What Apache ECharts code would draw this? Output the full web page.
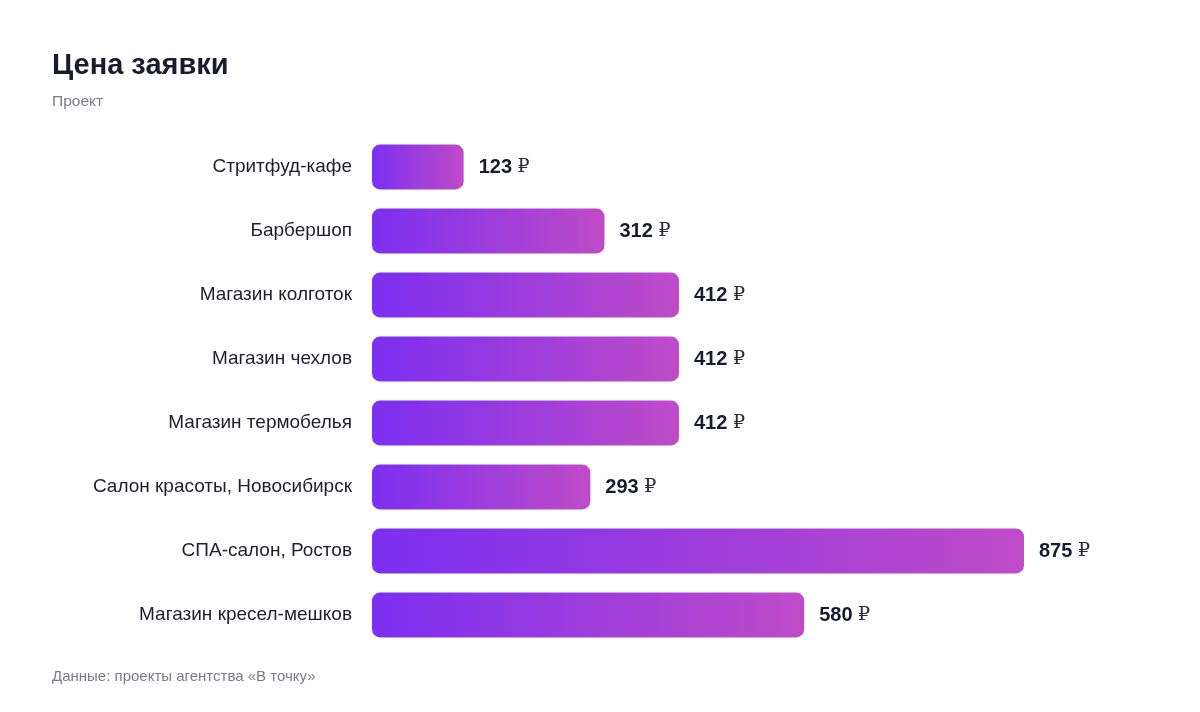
<!DOCTYPE html>
<html>
<head>
<meta charset="utf-8">
<script src="https://cdn.jsdelivr.net/npm/echarts@6/dist/echarts.min.js"></script>
<style>
html,body{margin:0;padding:0;background:#fff;}
#c{width:1200px;height:712px;}
</style>
</head>
<body>
<div id="c"></div>
<script>
const categories = ['Стритфуд-кафе','Барбершоп','Магазин колготок','Магазин чехлов','Магазин термобелья','Салон красоты, Новосибирск','СПА-салон, Ростов','Магазин кресел-мешков'];
const values = [123, 312, 412, 412, 412, 293, 875, 580];
const titleText = 'Цена заявки';
const subtitleText = 'Проект';
const footerText = 'Данные: проекты агентства «В точку»';

const font = '"Liberation Sans", Arial, Helvetica, sans-serif';
const chart = echarts.init(document.getElementById('c'));
chart.setOption({
  backgroundColor: '#ffffff',
  animation: false,
  title: [
    {text: titleText, left: 47, top: 46, textStyle: {fontFamily: font, fontSize: 29, fontWeight: 'bold', color: '#1b1b2f'}},
    {text: subtitleText, left: 47, top: 89, textStyle: {fontFamily: font, fontSize: 15.5, fontWeight: 'normal', color: '#7a7a8c'}},
    {text: footerText, left: 47, top: 664, textStyle: {fontFamily: font, fontSize: 15, fontWeight: 'normal', color: '#7a7a8c'}}
  ],
  grid: {left: 372, top: 135, width: 652, height: 512, containLabel: false},
  xAxis: {type: 'value', min: 0, max: 875, show: false},
  yAxis: {
    type: 'category', data: categories, inverse: true,
    axisLine: {show: false}, axisTick: {show: false},
    axisLabel: {fontFamily: font, fontSize: 19, color: '#1e1e2e', margin: 20}
  },
  series: [{
    type: 'bar', data: values, barWidth: '70%',
    itemStyle: {
      borderRadius: 8,
      color: new echarts.graphic.LinearGradient(0, 0, 1, 0, [
        {offset: 0, color: '#7b2ff0'},
        {offset: 1, color: '#bf4bc8'}
      ])
    },
    label: {
      show: true, position: 'right', distance: 15,
      formatter: p => '{v|' + p.value + '} {r|₽}',
      rich: {
        v: {fontFamily: font, fontSize: 20, fontWeight: 'bold', color: '#1b1b2f'},
        r: {fontFamily: '"DejaVu Serif", serif', fontSize: 19, fontWeight: 'normal', color: '#2a2a3a'}
      },
      fontFamily: font, fontSize: 20, fontWeight: 'bold', color: '#1b1b2f'
    }
  }]
});
</script>
</body>
</html>
